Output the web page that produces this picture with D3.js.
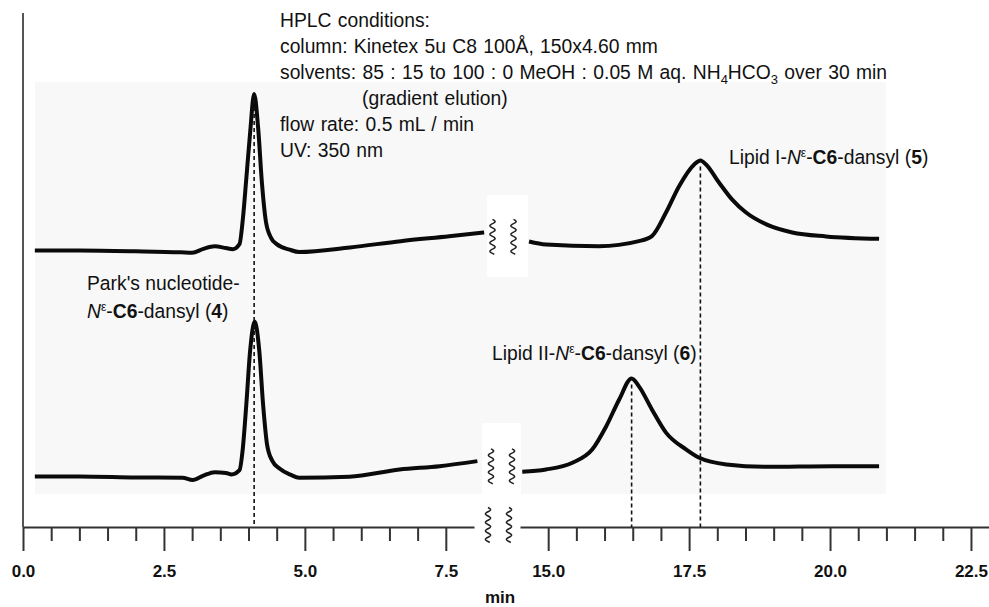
<!DOCTYPE html>
<html>
<head>
<meta charset="utf-8">
<script src="https://cdn.jsdelivr.net/npm/d3@7"></script>
<style>
  body { margin: 0; background: #fff; }
  text { font-family: "Liberation Sans", Arial, sans-serif; fill: #111; }
</style>
</head>
<body>
<script>
// ---- data (retention time in min, UV signal in relative units, baseline = 0) ----
// upper run: Lipid I-Ne-C6-dansyl (5) + Park's nucleotide (4)
var runITimeA = [0.21, 1.0, 2.0, 2.8, 3.0, 3.2, 3.4, 3.6, 3.72, 3.84, 3.9, 3.96, 4.03, 4.1, 4.17, 4.24, 4.31, 4.4, 4.5, 4.73, 4.9, 5.8, 6.7, 7.56, 8.18];
var runISignalA = [0, 0, -0.5, -1.2, -1.5, 1.0, 2.6, 1.5, 0.8, 4, 20, 45, 75, 99, 78, 42, 18, 8, 4, 0.5, -1, 1.9, 5.9, 9, 11.4];
var runITimeB = [14.66, 14.96, 15.9, 16.61, 16.84, 17.09, 17.32, 17.59, 17.7, 17.8, 18.03, 18.26, 18.51, 18.87, 19.33, 19.93, 20.87];
var runISignalB = [5.7, 3.8, 2.7, 5.9, 9.1, 24, 40.5, 54.4, 57, 54.4, 43, 32.3, 24, 16.5, 11.4, 8.9, 7.4];

// lower run: Lipid II-Ne-C6-dansyl (6) + Park's nucleotide (4)
var runIITimeA = [0.21, 1.0, 2.0, 2.83, 3.01, 3.2, 3.4, 3.6, 3.7, 3.84, 3.9, 3.96, 4.03, 4.11, 4.19, 4.26, 4.33, 4.42, 4.55, 4.75, 4.9, 5.79, 6.68, 7.39, 8.06];
var runIISignalA = [0, 0, -0.6, -0.8, -2.3, 0.5, 2.7, 2.2, 1.3, 4, 18, 45, 80, 98, 80, 45, 20, 10, 5, 1, -0.8, -0.2, 4.4, 6.5, 9.7];
var runIITimeB = [14.54, 14.96, 15.43, 15.78, 16.03, 16.26, 16.48, 16.61, 16.84, 17.09, 17.45, 17.68, 18.16, 18.87, 20.04, 20.87];
var runIISignalB = [3, 4.4, 8.7, 17, 31.8, 48.7, 62, 57, 42.4, 27.7, 17, 11.8, 7.6, 6.1, 6.5, 6.5];

// peak markers (dashed lines): time, which run it is read from
var markerTimes = [4.1, 17.7, 16.48];
var markerRuns = ["I", "I", "II"];

// axis ticks
var majorTicksA = [0, 2.5, 5, 7.5];
var majorTicksB = [15, 17.5, 20, 22.5];
var minorTicksA = [0.5, 1, 1.5, 2, 3, 3.5, 4, 4.5, 5.5, 6, 6.5, 7];
var minorTicksB = [15.5, 16, 16.5, 17, 18, 18.5, 19, 19.5, 20.5, 21, 21.5, 22];

var conditionLines = [
  "HPLC conditions:",
  "column: Kinetex 5u C8 100Å, 150x4.60 mm",
  "solvents: 85 : 15 to 100 : 0 MeOH : 0.05 M aq. NH|4|HCO|3| over 30 min",
  "(gradient elution)",
  "flow rate: 0.5 mL / min",
  "UV: 350 nm"
];

// ---- layout ----
var W = 989, H = 607;
var axisY = 527;
var offsets = { I: 175, II: 32 };
var labelSize = "19.3px";

var svg = d3.select("body").append("svg")
  .attr("width", W).attr("height", H);

var xA = d3.scaleLinear().domain([0, 8]).range([23, 474]);
var xB = d3.scaleLinear().domain([14.5, 22.82]).range([520, 989]);
var y = d3.scaleLinear().domain([0, 333.5]).range([axisY, 0]);

// scanned-trace background
svg.append("rect").attr("x", 35).attr("y", 82).attr("width", 851).attr("height", 412)
  .attr("fill", "#f8f8f8");
svg.append("rect").attr("x", 487).attr("y", 195).attr("width", 41).attr("height", 82).attr("fill", "#fff");
svg.append("rect").attr("x", 482).attr("y", 423).attr("width", 39).attr("height", 71).attr("fill", "#fff");

// y axis line
svg.append("line").attr("x1", 23).attr("x2", 23).attr("y1", 13).attr("y2", axisY)
  .attr("stroke", "#555").attr("stroke-width", 2);

// x axes (broken)
function drawAxis(scale, minor, major) {
  var gMinor = svg.append("g").attr("transform", "translate(0," + axisY + ")")
    .call(d3.axisBottom(scale).tickValues(minor).tickSize(14).tickSizeOuter(0).tickFormat(""));
  var gMajor = svg.append("g").attr("transform", "translate(0," + axisY + ")")
    .call(d3.axisBottom(scale).tickValues(major).tickSize(24).tickSizeOuter(0)
      .tickFormat(d3.format(".1f")).tickPadding(14));
  [gMinor, gMajor].forEach(function (g) {
    g.selectAll("path, line").attr("stroke", "#333").attr("stroke-width", 2);
  });
  gMajor.select(".domain").remove();
  gMajor.selectAll("text")
    .attr("fill", "#111")
    .style("font-size", "17px")
    .style("font-weight", "bold")
    .style("font-family", '"Liberation Sans", Arial, sans-serif');
}
drawAxis(xA, minorTicksA, majorTicksA);
drawAxis(xB, minorTicksB, majorTicksB);

svg.append("text").attr("x", 500).attr("y", 603).attr("text-anchor", "middle")
  .style("font-size", "17px").style("font-weight", "bold").text("min");

// break squiggles
function squiggle(cx, cy, h) {
  var pts = d3.range(0, h + 0.01, 0.5).map(function (d) {
    return [cx + 2.6 * Math.sin(2 * Math.PI * d / 8.5), cy - h / 2 + d];
  });
  svg.append("path").attr("d", d3.line()(pts))
    .attr("fill", "none").attr("stroke", "#222").attr("stroke-width", 1.5);
}
function breakPair(cx, cy) {
  squiggle(cx - 10.5, cy, 35);
  squiggle(cx + 10.5, cy, 35);
}
breakPair(498.5, 525);

// traces
var line = function (scale) {
  return d3.line().curve(d3.curveMonotoneX)
    .x(function (d) { return scale(d[0]); })
    .y(function (d) { return y(d[1]); });
};
function drawSegment(scale, times, vals, off) {
  var pts = times.map(function (t, i) { return [t, vals[i] + off]; });
  svg.append("path").datum(pts).attr("d", line(scale))
    .attr("fill", "none").attr("stroke", "#0a0a0a").attr("stroke-width", 4)
    .attr("stroke-linejoin", "round").attr("stroke-linecap", "butt");
}
drawSegment(xA, runITimeA, runISignalA, offsets.I);
drawSegment(xB, runITimeB, runISignalB, offsets.I);
drawSegment(xA, runIITimeA, runIISignalA, offsets.II);
drawSegment(xB, runIITimeB, runIISignalB, offsets.II);

breakPair(503, y(offsets.I + (runISignalA[runISignalA.length - 1] + runISignalB[0]) / 2));
breakPair(501.5, y(offsets.II + (runIISignalA[runIISignalA.length - 1] + runIISignalB[0]) / 2));

// dashed peak markers
markerTimes.forEach(function (t, i) {
  var run = markerRuns[i];
  var times = t < 10 ? (run === "I" ? runITimeA : runIITimeA) : (run === "I" ? runITimeB : runIITimeB);
  var vals = t < 10 ? (run === "I" ? runISignalA : runIISignalA) : (run === "I" ? runISignalB : runIISignalB);
  var scale = t < 10 ? xA : xB;
  var peak = d3.max(vals);
  svg.append("line")
    .attr("x1", scale(t)).attr("x2", scale(t))
    .attr("y1", y(peak + offsets[run]) + 6).attr("y2", axisY)
    .attr("stroke", "#111").attr("stroke-width", 1.6)
    .attr("stroke-dasharray", "4,3");
});

// conditions text block
var txt = svg.append("g").style("font-size", labelSize).style("word-spacing", "1px");
conditionLines.forEach(function (s, i) {
  var t = txt.append("text").attr("x", i === 3 ? 362 : 280).attr("y", 27 + i * 26);
  s.split("|").forEach(function (part, j) {
    if (j % 2 === 1) {
      t.append("tspan").attr("dy", 5).style("font-size", "13px").text(part);
    } else {
      t.append("tspan").attr("dy", j > 0 ? -5 : 0).text(part);
    }
  });
});

// compound labels: prefix, italic N, superscript epsilon, bold C6, bold compound number
function compoundLabel(x, yy, prefix, num) {
  var t = svg.append("text").attr("x", x).attr("y", yy).style("font-size", labelSize);
  if (prefix) t.append("tspan").text(prefix);
  t.append("tspan").style("font-style", "italic").text("N");
  t.append("tspan").attr("dy", -7).style("font-size", "12px").text("ε");
  t.append("tspan").attr("dy", 7).text("-");
  t.append("tspan").style("font-weight", "bold").text("C6");
  t.append("tspan").text("-dansyl (");
  t.append("tspan").style("font-weight", "bold").text(num);
  t.append("tspan").text(")");
}
compoundLabel(729, 164, "Lipid I-", "5");
compoundLabel(492, 360, "Lipid II-", "6");
svg.append("text").attr("x", 87).attr("y", 290).style("font-size", labelSize).text("Park's nucleotide-");
compoundLabel(87, 318, "", "4");
</script>
</body>
</html>
